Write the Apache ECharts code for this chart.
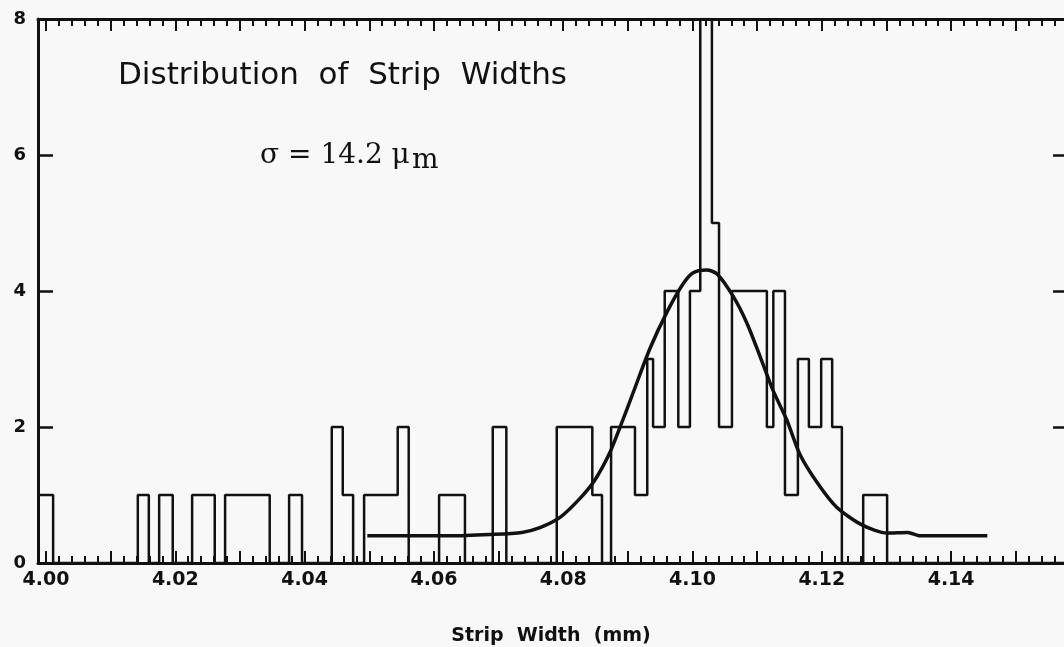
<!DOCTYPE html>
<html>
<head>
<meta charset="utf-8">
<script src="https://cdn.jsdelivr.net/npm/echarts@6/dist/echarts.min.js"></script>
<style>
html,body{margin:0;padding:0;background:#f8f8f8;}
#chart{width:1064px;height:647px;}
</style>
</head>
<body>
<div id="chart"></div>
<script>
// Histogram bin edges (mm) and counts per bin
const binEdges = [3.9988, 4.0011, 4.0142, 4.0159, 4.0175, 4.0196, 4.0226, 4.0261, 4.0277, 4.0346,
  4.0376, 4.0396, 4.0442, 4.0459, 4.0475, 4.0492, 4.0544, 4.0561, 4.0608, 4.0648,
  4.0691, 4.0712, 4.0790, 4.0845, 4.0860, 4.0874, 4.0911, 4.0930, 4.0939, 4.0957,
  4.0978, 4.0996, 4.1012, 4.1030, 4.1041, 4.1061, 4.1115, 4.1125, 4.1143, 4.1163,
  4.1180, 4.1199, 4.1216, 4.1231, 4.1264, 4.1301];
const binCounts = [1, 0, 1, 0, 1, 0, 1, 0, 1, 0,
  1, 0, 2, 1, 0, 1, 2, 0, 1, 0,
  2, 0, 2, 1, 0, 2, 1, 3, 2, 4,
  2, 4, 8, 5, 2, 4, 2, 4, 1, 3,
  2, 3, 2, 0, 1];

// Gaussian fit curve
const fitX = [4.0497, 4.0625, 4.0687, 4.0736, 4.0764, 4.0795, 4.0826, 4.0849, 4.0872, 4.0888,
  4.0908, 4.0934, 4.0961, 4.0985, 4.1001, 4.1022, 4.1038, 4.1063, 4.1084, 4.1104,
  4.1124, 4.1146, 4.1166, 4.1193, 4.1223, 4.1262, 4.1301, 4.1333, 4.1352, 4.1456];
const fitY = [0.40, 0.40, 0.42, 0.45, 0.52, 0.67, 0.95, 1.22, 1.62, 2.0,
  2.5, 3.15, 3.7, 4.1, 4.27, 4.31, 4.25, 3.92, 3.53, 3.05,
  2.55, 2.1, 1.6, 1.18, 0.82, 0.56, 0.44, 0.45, 0.40, 0.40];

// Axis tick labels
const xTickLabels = [4.00, 4.02, 4.04, 4.06, 4.08, 4.10, 4.12, 4.14];
const yTickLabels = [0, 2, 4, 6, 8];

const titleText = 'Distribution  of  Strip  Widths';
const sigmaText = 'σ = 14.2 μ';
const sigmaUnit = 'm';
const xAxisTitle = 'Strip  Width  (mm)';

const X_MIN = 3.99876, X_MAX = 4.15746;

function range(a, b, step) {
  const out = [];
  const n = Math.round((b - a) / step);
  for (let i = 0; i <= n; i++) out.push(+(a + i * step).toFixed(4));
  return out;
}
const minorTicks = range(4.000, 4.156, 0.002);
const majorTicks = range(4.00, 4.15, 0.01);

// Build step outline from bins
const histData = [[binEdges[0], 0]];
for (let i = 0; i < binCounts.length; i++) {
  histData.push([binEdges[i], binCounts[i]]);
  histData.push([binEdges[i + 1], binCounts[i]]);
}
histData.push([binEdges[binEdges.length - 1], 0]);
histData.push([X_MAX, 0]);

const fitData = fitX.map((x, i) => [x, fitY[i]]);

const ink = '#111';
function xAx(pos, ticks, len, showLine, showLabel) {
  return {
    type: 'value', position: pos, min: X_MIN, max: X_MAX,
    axisLine: {show: showLine, onZero: false, lineStyle: {color: ink, width: 3}},
    axisTick: {show: true, inside: true, length: len, customValues: ticks,
      lineStyle: {color: ink, width: 2}},
    axisLabel: showLabel ? {
      show: true, customValues: xTickLabels, margin: 8,
      formatter: v => v.toFixed(2),
      fontFamily: 'DejaVu Sans', fontWeight: 'bold', fontSize: 19, color: ink
    } : {show: false},
    splitLine: {show: false}
  };
}

const chart = echarts.init(document.getElementById('chart'), null, {renderer: 'canvas'});
chart.setOption({
  animation: false,
  backgroundColor: '#f8f8f8',
  grid: {left: 38, right: 0, top: 19, bottom: 84, containLabel: false, outerBoundsMode: 'none'},
  xAxis: [
    Object.assign(xAx('bottom', minorTicks, 7, true, true), {
      name: xAxisTitle, nameLocation: 'middle', nameGap: 64,
      nameTextStyle: {fontFamily: 'DejaVu Sans', fontWeight: 'bold', fontSize: 19, color: ink}
    }),
    xAx('bottom', majorTicks, 12, false, false),
    xAx('top', minorTicks, 7, true, false),
    xAx('top', majorTicks, 12, false, false)
  ],
  yAxis: [
    {
      type: 'value', position: 'left', min: 0, max: 8, interval: 2,
      axisLine: {show: true, onZero: false, lineStyle: {color: ink, width: 3}},
      axisTick: {show: true, inside: true, length: 15, lineStyle: {color: ink, width: 2.5}},
      axisLabel: {show: true, margin: 12, formatter: v => String(v),
        customValues: yTickLabels,
        fontFamily: 'DejaVu Sans', fontWeight: 'bold', fontSize: 18, color: ink},
      splitLine: {show: false}
    },
    {
      type: 'value', position: 'right', min: 0, max: 8, interval: 2,
      axisLine: {show: false},
      axisTick: {show: true, inside: true, length: 11, lineStyle: {color: ink, width: 2.5}},
      axisLabel: {show: false},
      splitLine: {show: false}
    }
  ],
  series: [
    {
      type: 'line', xAxisIndex: 0, yAxisIndex: 0, data: histData,
      showSymbol: false, symbol: 'none', clip: true,
      lineStyle: {color: ink, width: 2.5}
    },
    {
      type: 'line', xAxisIndex: 0, yAxisIndex: 0, data: fitData,
      showSymbol: false, symbol: 'none', smooth: 0.25,
      lineStyle: {color: ink, width: 3.5}
    }
  ],
  graphic: [
    {type: 'text', left: 118, top: 60,
      style: {text: titleText, fontFamily: 'DejaVu Sans', fontSize: 31, fill: ink}},
    {type: 'text', left: 260, top: 142,
      style: {text: sigmaText, fontFamily: 'DejaVu Serif', fontSize: 28, fill: ink}},
    {type: 'text', left: 412, top: 147,
      style: {text: sigmaUnit, fontFamily: 'DejaVu Serif', fontSize: 28, fill: ink}}
  ]
});
</script>
</body>
</html>
